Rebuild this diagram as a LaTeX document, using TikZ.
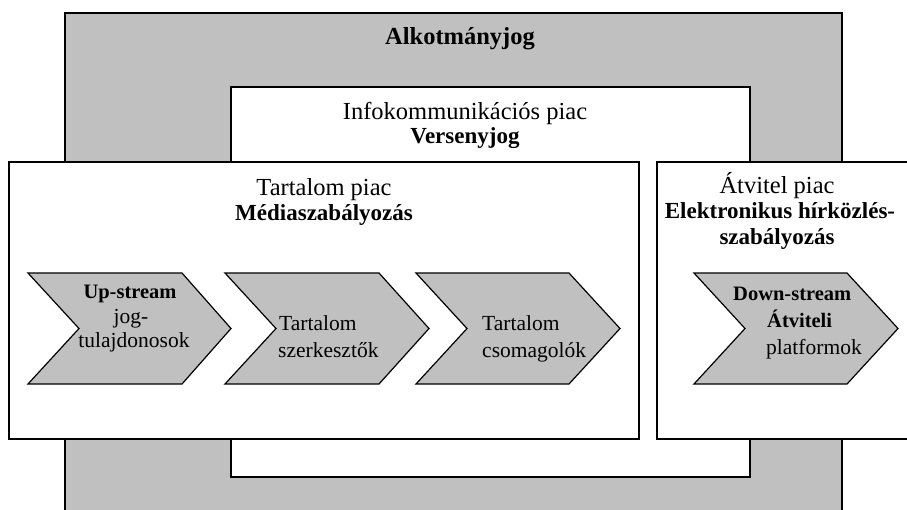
\documentclass[tikz,border=0pt]{standalone}
\usepackage{fontspec}
\setmainfont{Liberation Serif}
\definecolor{boxgray}{HTML}{C0C0C0}
\begin{document}
\begin{tikzpicture}[x=1pt,y=-1pt,
  frame/.style={draw=black,line width=1.5pt},
  chev/.style={draw=black,line width=1.2pt,fill=boxgray,line join=miter},
  head/.style={inner sep=0pt,anchor=base,font=\fontsize{24.5}{27}\selectfont},
  headb/.style={head,font=\fontsize{23}{27}\selectfont\bfseries},
  titleb/.style={head,font=\fontsize{24.5}{27}\selectfont\bfseries},
  ctxt/.style={inner sep=0pt,anchor=base,font=\fontsize{21.5}{24}\selectfont},
  ctxtl/.style={ctxt,anchor=base west},
  ctxtb/.style={ctxt,font=\fontsize{20.5}{24}\selectfont\bfseries},
  ctxtbl/.style={ctxtb,anchor=base west}]
\useasboundingbox (0,0) rectangle (907,509);
\begin{scope}
\clip (0,0) rectangle (907,509);
% outer constitutional frame
\draw[frame,fill=boxgray] (65,13) rectangle (842,540);
% infocommunication market
\draw[frame,fill=white] (231,87) rectangle (750,477);
% content market
\draw[frame,fill=white] (9,162) rectangle (639,439);
% transmission market
\draw[frame,fill=white] (657,162) rectangle (930,439);
% chevrons
\draw[chev] (28,273) -- (182,273) -- (231,328.5) -- (182,384) -- (28,384) -- (79,328.5) -- cycle;
\draw[chev] (225,273) -- (379,273) -- (429,328.5) -- (379,384) -- (225,384) -- (276,328.5) -- cycle;
\draw[chev] (416,273) -- (569,273) -- (620,328.5) -- (569,384) -- (416,384) -- (467,328.5) -- cycle;
\draw[chev] (694,273) -- (847,273) -- (898,328.5) -- (847,384) -- (694,384) -- (745,328.5) -- cycle;
\end{scope}
% texts
\node[titleb] (alk) at (460,44) {Alkotmányjog};
\node[head] (info) at (465,119) {Infokommunikációs piac};
\node[headb] (vers) at (465,143) {Versenyjog};
\node[head] (tart) at (324,195) {Tartalom piac};
\node[headb] (media) at (324,220) {Médiaszabályozás};
\node[head] (atv) at (777,193) {Átvitel piac};
\node[headb] (elek) at (780,218) {Elektronikus hírközlés-};
\node[headb] (szab) at (777,244) {szabályozás};
% chevron texts
\node[ctxtb] (up) at (130,298) {Up-stream};
\node[ctxt] (jog) at (131,323) {jog-};
\node[ctxt] (tul) at (134,347) {tulajdonosok};
\node[ctxtl] (t2a) at (279,330) {Tartalom};
\node[ctxtl] (t2b) at (278,357) {szerkesztők};
\node[ctxtl] (t3a) at (482,330) {Tartalom};
\node[ctxtl] (t3b) at (482,357) {csomagolók};
\node[ctxtbl] (down) at (733,300) {Down-stream};
\node[ctxtbl] (atvi) at (767,327) {Átviteli};
\node[ctxtl] (plat) at (766,354) {platformok};
\end{tikzpicture}
\end{document}
